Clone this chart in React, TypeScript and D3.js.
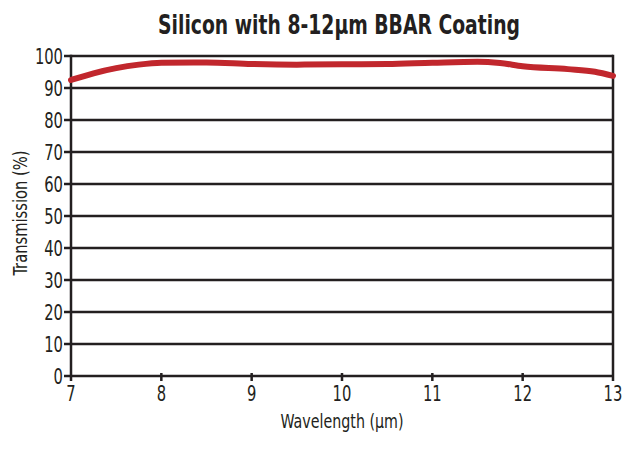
import React, { useRef, useEffect } from 'react';
import * as d3 from 'd3';

// wavelength (µm) and transmission (%)
const wavelength = [7.0, 7.25, 7.5, 7.75, 8.0, 8.5, 9.0, 9.5, 10.0, 10.5, 11.0, 11.5, 11.75, 12.0, 12.5, 12.8, 13.0];
const transmission = [92.5, 94.6, 96.2, 97.3, 97.9, 98.0, 97.5, 97.3, 97.4, 97.5, 97.9, 98.2, 97.8, 96.8, 95.9, 95.1, 93.8];

const xTicks = [7, 8, 9, 10, 11, 12, 13];
const yTicks = [0, 10, 20, 30, 40, 50, 60, 70, 80, 90, 100];

const title = 'Silicon with 8-12µm BBAR Coating';
const xTitle = 'Wavelength (µm)';
const yTitle = 'Transmission (%)';

const W = 634;
const H = 450;
const FONT = "'Liberation Sans Narrow', 'DejaVu Sans Condensed', 'Roboto', sans-serif";
const INK = '#231f20';
const NARROW = 0.78;

const App = () => {
  const ref = useRef<SVGSVGElement>(null);

  useEffect(() => {
    if (!ref.current) return;
    const svg = d3.select(ref.current);
    svg.selectAll('*').remove();

    const x = d3.scaleLinear().domain([7, 13]).range([71, 613]);
    const y = d3.scaleLinear().domain([0, 100]).range([376, 56]);

    svg
      .append('text')
      .attr('x', 339)
      .attr('y', 34)
      .attr('text-anchor', 'middle')
      .attr('font-family', FONT)
      .attr('font-weight', 'bold')
      .attr('font-size', 27)
      .attr('textLength', 362)
      .attr('lengthAdjust', 'spacingAndGlyphs')
      .attr('fill', INK)
      .text(title);

    const grid = svg.append('g');
    grid
      .selectAll('line.h')
      .data(yTicks)
      .enter()
      .append('line')
      .attr('class', 'h')
      .attr('x1', 64)
      .attr('x2', x(13))
      .attr('y1', d => y(d))
      .attr('y2', d => y(d))
      .attr('stroke', INK)
      .attr('stroke-width', 2.5);

    grid
      .selectAll('line.v')
      .data(xTicks)
      .enter()
      .append('line')
      .attr('class', 'v')
      .attr('x1', d => x(d))
      .attr('x2', d => x(d))
      .attr('y1', d => (d === 7 || d === 13 ? y(100) - 1.25 : y(0) - 3))
      .attr('y2', y(0) + 5)
      .attr('stroke', INK)
      .attr('stroke-width', 2.5);

    // tick labels are squeezed horizontally to mimic the condensed face
    svg
      .append('g')
      .selectAll('text')
      .data(yTicks)
      .enter()
      .append('text')
      .attr('transform', d => `translate(63, ${y(d) + 7.5}) scale(${NARROW}, 1)`)
      .attr('text-anchor', 'end')
      .attr('font-family', FONT)
      .attr('font-size', 21)
      .attr('fill', INK)
      .text(d => d);

    svg
      .append('g')
      .selectAll('text')
      .data(xTicks)
      .enter()
      .append('text')
      .attr('transform', d => `translate(${x(d)}, 401) scale(${NARROW}, 1)`)
      .attr('text-anchor', 'middle')
      .attr('font-family', FONT)
      .attr('font-size', 21)
      .attr('fill', INK)
      .text(d => d);

    svg
      .append('text')
      .attr('x', 342)
      .attr('y', 428)
      .attr('text-anchor', 'middle')
      .attr('font-family', FONT)
      .attr('font-size', 20)
      .attr('textLength', 123)
      .attr('lengthAdjust', 'spacingAndGlyphs')
      .attr('fill', INK)
      .text(xTitle);

    svg
      .append('text')
      .attr('transform', 'translate(27, 213) rotate(-90)')
      .attr('text-anchor', 'middle')
      .attr('font-family', FONT)
      .attr('font-size', 20)
      .attr('textLength', 125)
      .attr('lengthAdjust', 'spacingAndGlyphs')
      .attr('fill', INK)
      .text(yTitle);

    const line = d3
      .line<number>()
      .x((d, i) => x(wavelength[i]))
      .y(d => y(d))
      .curve(d3.curveMonotoneX);

    svg
      .append('path')
      .datum(transmission)
      .attr('d', line)
      .attr('fill', 'none')
      .attr('stroke', '#c1272d')
      .attr('stroke-width', 6)
      .attr('stroke-linecap', 'round')
      .attr('stroke-linejoin', 'round');
  }, []);

  return (
    <svg
      ref={ref}
      width={W}
      height={H}
      style={{ position: 'absolute', left: 0, top: 0, background: '#fff' }}
    />
  );
};

export default App;
